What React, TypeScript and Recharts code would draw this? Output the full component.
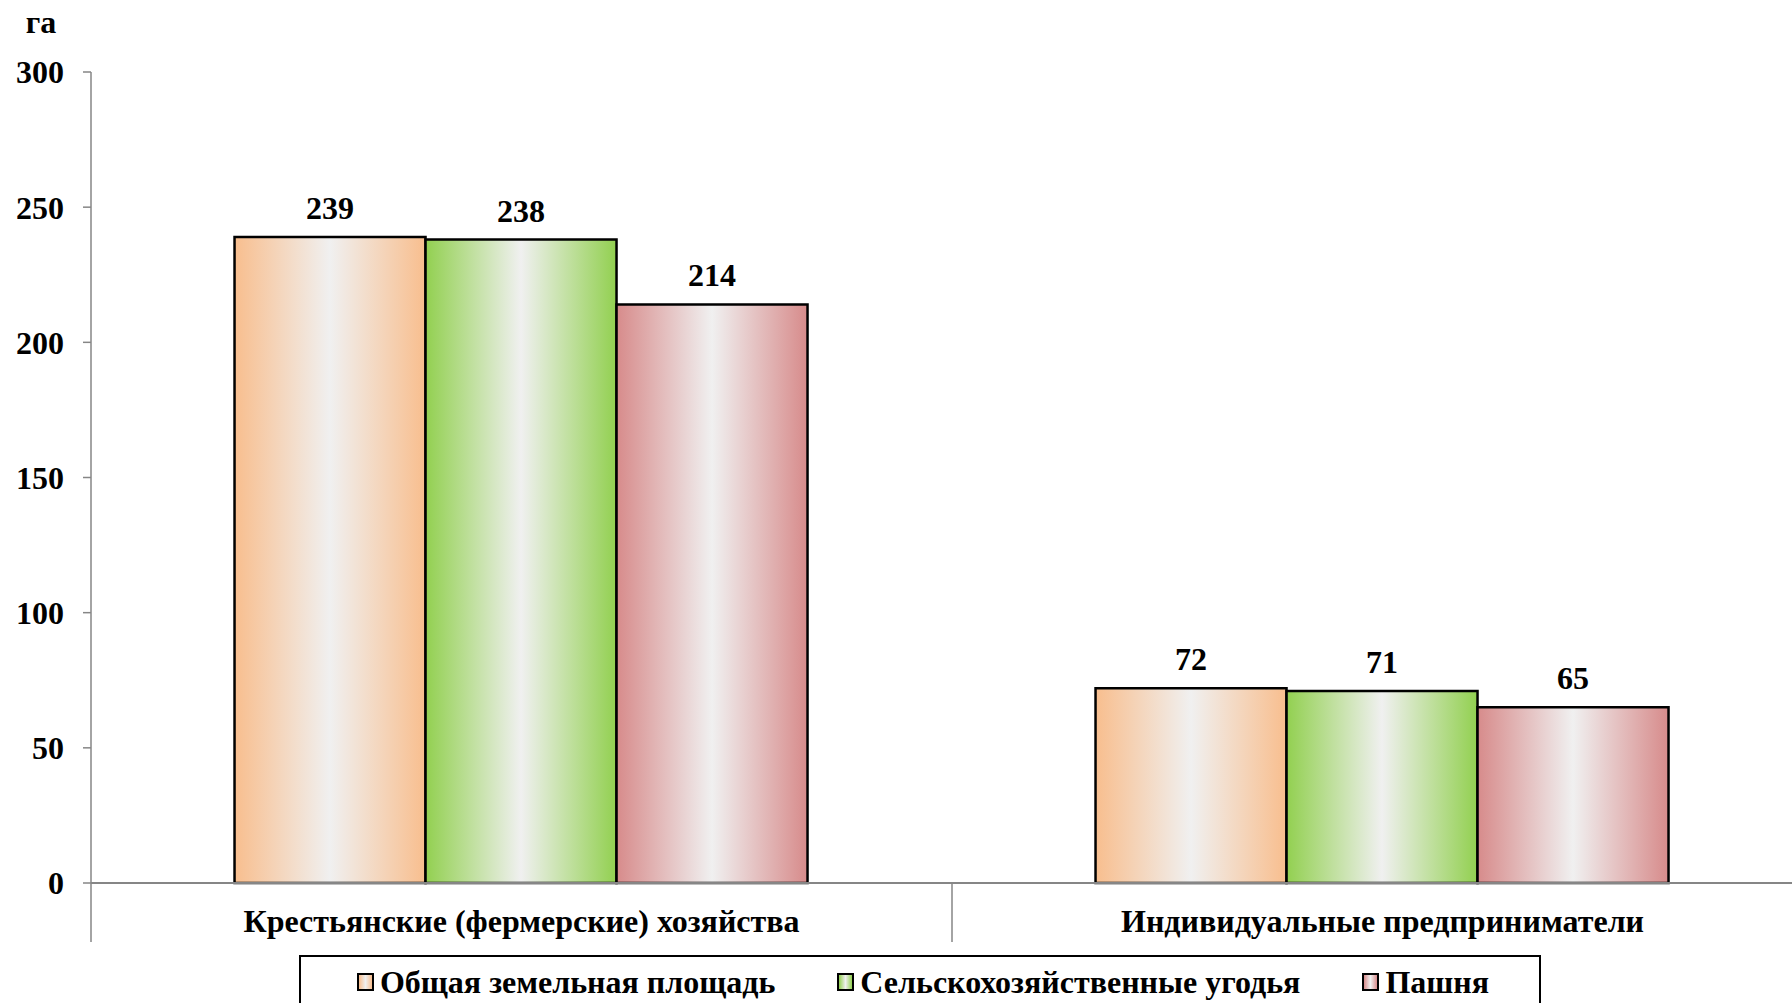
import { BarChart, Bar, XAxis, YAxis, Legend, LabelList } from "recharts";

const categories = [
    "Крестьянские (фермерские) хозяйства",
    "Индивидуальные предприниматели",
];
const totalArea = [239, 72];
const farmland = [238, 71];
const arable = [214, 65];
const yTicks = [0, 50, 100, 150, 200, 250, 300];
const unitLabel = "га";

const series = [
    { key: "total", name: "Общая земельная площадь", color: "#F8BE8E", values: totalArea },
    { key: "farmland", name: "Сельскохозяйственные угодья", color: "#92D050", values: farmland },
    { key: "arable", name: "Пашня", color: "#D78B8B", values: arable },
];

const data = categories.map((name, i) => {
    const row: { [k: string]: string | number } = { name };
    series.forEach((s) => {
        row[s.key] = s.values[i];
    });
    return row;
});

const FONT = '"Liberation Serif", "Times New Roman", serif';
const FONT_SIZE = 32;
const AXIS_COLOR = "#868686";
const MID_COLOR = "#F0F0F0";

const CategoryTick = (props: any) => {
    const { x, y, payload } = props;
    const half = payload && payload.offset ? payload.offset : 430.5;
    return (
        <g>
            <line
                x1={x - half}
                y1={y}
                x2={x - half}
                y2={y + 59}
                stroke={AXIS_COLOR}
                strokeWidth={1.5}
            />
            <text
                x={x}
                y={y + 49}
                textAnchor="middle"
                fontFamily={FONT}
                fontWeight="bold"
                fontSize={FONT_SIZE}
                fill="#000"
            >
                {payload.value}
            </text>
        </g>
    );
};

const renderLegend = () => (
    <div style={{ paddingTop: 13 }}>
        <div
            style={{
                marginLeft: 299,
                width: 1242,
                height: 62,
                boxSizing: "border-box",
                border: "2px solid #000",
                background: "#fff",
                display: "flex",
                justifyContent: "center",
                alignItems: "center",
                gap: 62,
                fontFamily: FONT,
                fontWeight: "bold",
                fontSize: FONT_SIZE,
                color: "#000",
                paddingBottom: 9,
                paddingLeft: 6,
            }}
        >
            {series.map((s) => (
                <div key={s.key} style={{ display: "flex", alignItems: "center" }}>
                    <span
                        style={{
                            display: "inline-block",
                            flexShrink: 0,
                            width: 13,
                            height: 14,
                            border: "2px solid #000",
                            background: `linear-gradient(to right, ${s.color}, ${MID_COLOR}, ${s.color})`,
                            marginRight: 6,
                        }}
                    />
                    <span style={{ lineHeight: "32px", whiteSpace: "nowrap" }}>{s.name}</span>
                </div>
            ))}
        </div>
    </div>
);

const App = () => {
    return (
        <div
            style={{
                position: "absolute",
                top: 0,
                left: 0,
                width: 1792,
                height: 1003,
                overflow: "hidden",
                background: "#fff",
            }}
        >
            <BarChart
                width={1830}
                height={1017}
                data={data}
                margin={{ top: 72, right: 17, left: 0, bottom: 0 }}
                barCategoryGap="16.67%"
                barGap={0}
            >
                <defs>
                    {series.map((s) => (
                        <linearGradient key={s.key} id={`grad-${s.key}`} x1="0" y1="0" x2="1" y2="0">
                            <stop offset="0%" stopColor={s.color} />
                            <stop offset="50%" stopColor={MID_COLOR} />
                            <stop offset="100%" stopColor={s.color} />
                        </linearGradient>
                    ))}
                </defs>
                <XAxis
                    dataKey="name"
                    height={59}
                    axisLine={{ stroke: AXIS_COLOR, strokeWidth: 2 }}
                    tickLine={false}
                    tickSize={0}
                    tickMargin={0}
                    tick={<CategoryTick />}
                    interval={0}
                />
                <YAxis
                    width={91}
                    domain={[0, 300]}
                    ticks={yTicks}
                    interval={0}
                    axisLine={{ stroke: AXIS_COLOR, strokeWidth: 1.5 }}
                    tickLine={{ stroke: AXIS_COLOR, strokeWidth: 1.5 }}
                    tickSize={8}
                    tickMargin={19}
                    tick={{
                        fill: "#000",
                        fontFamily: FONT,
                        fontWeight: "bold",
                        fontSize: FONT_SIZE,
                    }}
                    label={{
                        content: (p: any) => (
                            <text
                                x={p.viewBox.x + 41}
                                y={p.viewBox.y - 39}
                                textAnchor="middle"
                                fontFamily={FONT}
                                fontWeight="bold"
                                fontSize={FONT_SIZE}
                                fill="#000"
                            >
                                {unitLabel}
                            </text>
                        ),
                    }}
                />
                <Legend verticalAlign="bottom" wrapperStyle={{ left: 0 }} content={renderLegend} />
                {series.map((s) => (
                    <Bar
                        key={s.key}
                        dataKey={s.key}
                        name={s.name}
                        fill={`url(#grad-${s.key})`}
                        stroke="#000"
                        strokeWidth={2.5}
                        isAnimationActive={false}
                    >
                        <LabelList
                            dataKey={s.key}
                            position="top"
                            offset={18}
                            fill="#000"
                            fontFamily={FONT}
                            fontWeight="bold"
                            fontSize={FONT_SIZE}
                        />
                    </Bar>
                ))}
            </BarChart>
        </div>
    );
};

export default App;
